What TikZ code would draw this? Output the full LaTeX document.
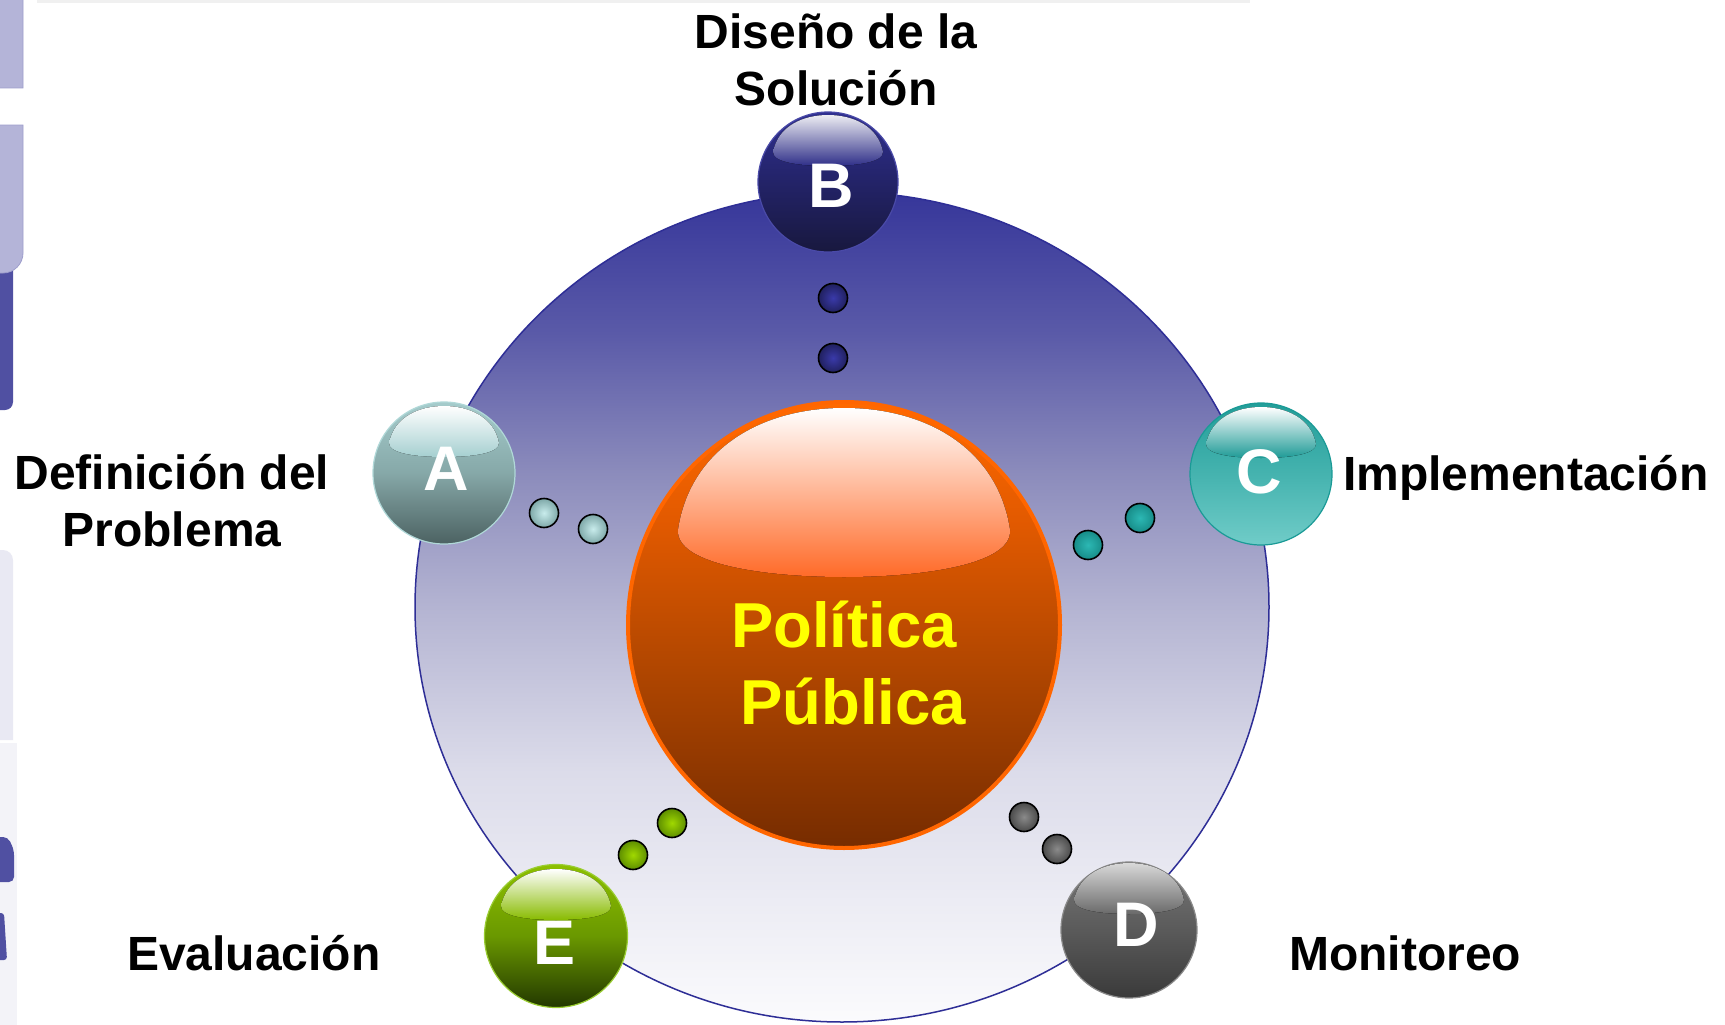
\documentclass[tikz,border=0pt]{standalone}
\usepackage{fontspec}
\setmainfont{Liberation Sans}
\usetikzlibrary{shapes.geometric}

\definecolor{bg0}{HTML}{FBFBFD}
\definecolor{bg1}{HTML}{DCDCEA}
\definecolor{bg2}{HTML}{B4B4D2}
\definecolor{bg3}{HTML}{8C8CBC}
\definecolor{bg4}{HTML}{5A5AA8}
\definecolor{bg5}{HTML}{36369A}
\definecolor{rim}{HTML}{2E2E96}
\definecolor{pp0}{HTML}{762C00}
\definecolor{pp1}{HTML}{B04600}
\definecolor{pp2}{HTML}{E35A00}
\definecolor{pp3}{HTML}{FF6A00}
\definecolor{pprim}{HTML}{FF6600}
\definecolor{pphl}{HTML}{FF6A28}
\definecolor{ppyellow}{HTML}{FFFF00}
% spheres
\definecolor{Atop}{HTML}{A5CCCC}\definecolor{Amid}{HTML}{86A8A8}\definecolor{Abot}{HTML}{4C6262}\definecolor{Ahl}{HTML}{A5CFD0}\definecolor{Arim}{HTML}{B0D8D8}
\definecolor{Btop}{HTML}{303090}\definecolor{Bmid}{HTML}{232368}\definecolor{Bbot}{HTML}{18183E}\definecolor{Bhl}{HTML}{2E2E88}\definecolor{Brim}{HTML}{4A4AA8}\definecolor{Bhltop}{HTML}{ECECF2}
\definecolor{Ctop}{HTML}{239E99}\definecolor{Cmid}{HTML}{45B3AF}\definecolor{Cbot}{HTML}{70CCC8}\definecolor{Chl}{HTML}{1E9A96}\definecolor{Crim}{HTML}{1A9A96}
\definecolor{Dtop}{HTML}{777777}\definecolor{Dmid}{HTML}{5A5A5A}\definecolor{Dbot}{HTML}{3A3A3A}\definecolor{Dhl}{HTML}{6A6A6A}\definecolor{Drim}{HTML}{8A8A8A}\definecolor{Dhltop}{HTML}{D8D8D8}
\definecolor{Etop}{HTML}{8DC000}\definecolor{Emid}{HTML}{6A9800}\definecolor{Ebot}{HTML}{233800}\definecolor{Ehl}{HTML}{88BB00}\definecolor{Erim}{HTML}{9ACD32}
% dots
\definecolor{dAin}{HTML}{C8ECEC}\definecolor{dAout}{HTML}{7EA8A8}
\definecolor{dBin}{HTML}{3A3AAA}\definecolor{dBout}{HTML}{20205E}
\definecolor{dCin}{HTML}{2CB8B4}\definecolor{dCout}{HTML}{178C88}
\definecolor{dDin}{HTML}{8A8A8A}\definecolor{dDout}{HTML}{4A4A4A}
\definecolor{dEin}{HTML}{A0D800}\definecolor{dEout}{HTML}{5E8E00}
% left strip artefacts
\definecolor{artL}{HTML}{B4B4D8}
\definecolor{artLb}{HTML}{9E9ECC}
\definecolor{artD}{HTML}{5050A2}
\definecolor{artF}{HTML}{E9E9F3}
\definecolor{artF2}{HTML}{F3F3F8}

\pgfdeclareverticalshading{bigbg}{100bp}{color(0bp)=(bg0); color(25bp)=(bg0); color(40bp)=(bg1); color(50bp)=(bg2); color(58bp)=(bg3); color(66.5bp)=(bg4); color(75bp)=(bg5); color(100bp)=(bg5)}
\pgfdeclareverticalshading{ppshade}{100bp}{color(0bp)=(pp0); color(25bp)=(pp0); color(45bp)=(pp1); color(62bp)=(pp2); color(75bp)=(pp3); color(100bp)=(pp3)}

\tikzset{
  sphere/.style={circle, inner sep=0pt, minimum size=#1, line width=1.2pt},
  dot/.style={circle, inner sep=0pt, minimum size=29pt, draw=black, line width=1.6pt, shading=radial},
  lab/.style={font=\fontsize{48}{57}\selectfont\bfseries, text=black, inner sep=0pt, align=center},
  letter/.style={font=\fontsize{63}{63}\selectfont\bfseries, text=white, inner sep=0pt, anchor=base},
}
% dome-shaped glossy highlight on a satellite sphere
\newcommand\domehl[3]{%
  \fill[top color=#2, bottom color=#3, shift={(#1.center)}]
    (-55,30) .. controls (-50,56) and (-25,67) .. (0,67)
    .. controls (25,67) and (50,56) .. (55,30)
    .. controls (55,19) and (25,16) .. (0,16)
    .. controls (-25,16) and (-55,19) .. (-55,30) -- cycle;}

\begin{document}
\begin{tikzpicture}[x=1pt,y=1pt]
\useasboundingbox (0,0) rectangle (1725,-1025);
\fill[white] (0,0) rectangle (1725,-1025);

% faint band at top
\fill[black!6] (37,0) rectangle (1250,-3);

% left strip artefacts
\fill[artD] (-10,-250) -- (13,-250) [rounded corners=8pt] -- (13,-410) [sharp corners] -- (-10,-410) -- cycle;
\filldraw[fill=artL, draw=artLb, line width=0.8pt] (-10,20) -- (3,20) [rounded corners=18pt] -- (23,20) [sharp corners] -- (23,-88) -- (-10,-88) -- cycle;
\filldraw[fill=artL, draw=artLb, line width=0.8pt] (-10,-125) -- (23,-125) [rounded corners=20pt] -- (23,-273) [sharp corners] -- (-10,-273) -- cycle;
\fill[artF2] (-10,-743) rectangle (17,-1025);
\fill[artF] (-10,-740) -- (-10,-550) [rounded corners=10pt] -- (13,-550) [sharp corners] -- (13,-740) -- cycle;
\fill[artD, rounded corners=5pt] (-10,-837) -- (8,-837) -- (14,-850) -- (14,-882) -- (-10,-882) -- cycle;
\fill[artD, rounded corners=3pt] (-10,-913) -- (4,-913) -- (7,-960) -- (-10,-960) -- cycle;

% big background disc
\node[ellipse, inner sep=0pt, minimum width=854pt, minimum height=830pt, shading=bigbg, draw=rim, line width=1.5pt] (disc) at (842,-607) {};

% central sphere
\node[ellipse, inner sep=0pt, minimum width=432pt, minimum height=446pt, shading=ppshade, draw=pprim, line width=4pt] (pp) at (844,-625) {};
\fill[top color=white, bottom color=pphl]
  (678,-530) .. controls (690,-450) and (760,-408) .. (844,-408)
  .. controls (928,-408) and (998,-450) .. (1010,-530)
  .. controls (1012,-565) and (920,-577) .. (844,-577)
  .. controls (768,-577) and (676,-565) .. (678,-530) -- cycle;
\node[font=\fontsize{63.5}{77}\selectfont\bfseries, text=ppyellow, align=center, inner sep=0pt] (pptext) at (844,-663) {Política\\\hspace*{18pt}Pública};

% satellite spheres
\node[sphere=142pt, top color=Atop, bottom color=Abot, middle color=Amid, draw=Arim] (sA) at (444,-473) {};
\node[sphere=140pt, top color=Btop, bottom color=Bbot, middle color=Bmid, draw=Brim] (sB) at (828,-182) {};
\node[sphere=142pt, top color=Ctop, bottom color=Cbot, middle color=Cmid, draw=Crim] (sC) at (1261,-474) {};
\node[sphere=136pt, top color=Dtop, bottom color=Dbot, middle color=Dmid, draw=Drim] (sD) at (1129,-930) {};
\node[sphere=143pt, top color=Etop, bottom color=Ebot, middle color=Emid, draw=Erim] (sE) at (556,-936) {};

\domehl{sA}{white}{Ahl}
\domehl{sB}{Bhltop}{Bhl}
\domehl{sC}{white}{Chl}
\domehl{sD}{Dhltop}{Dhl}
\domehl{sE}{white}{Ehl}

\node[letter] (lA) at (446,-490) {A};
\node[letter] (lB) at (831,-207) {B};
\node[letter] (lC) at (1259,-493) {C};
\node[letter] (lD) at (1136,-946) {D};
\node[letter] (lE) at (555,-964) {E};

% small dots
\node[dot, inner color=dAin, outer color=dAout] (dA1) at (544,-513) {};
\node[dot, inner color=dAin, outer color=dAout] (dA2) at (593,-529) {};
\node[dot, inner color=dBin, outer color=dBout] (dB1) at (833,-298) {};
\node[dot, inner color=dBin, outer color=dBout] (dB2) at (833,-358) {};
\node[dot, inner color=dCin, outer color=dCout] (dC1) at (1140,-518) {};
\node[dot, inner color=dCin, outer color=dCout] (dC2) at (1088,-545) {};
\node[dot, inner color=dDin, outer color=dDout] (dD1) at (1024,-817) {};
\node[dot, inner color=dDin, outer color=dDout] (dD2) at (1057,-849) {};
\node[dot, inner color=dEin, outer color=dEout] (dE1) at (672,-823) {};
\node[dot, inner color=dEin, outer color=dEout] (dE2) at (633,-855) {};

% labels
\node[lab] (tB) at (836,-60) {Diseño de la\\Solución};
\node[lab] (tA) at (172,-501) {Definición del\\Problema};
\node[lab, anchor=base west] (tC) at (1343,-490) {Implementación};
\node[lab, anchor=base west] (tD) at (1289,-970) {Monitoreo};
\node[lab, anchor=base west] (tE) at (127,-970) {Evaluación};
\end{tikzpicture}
\end{document}
